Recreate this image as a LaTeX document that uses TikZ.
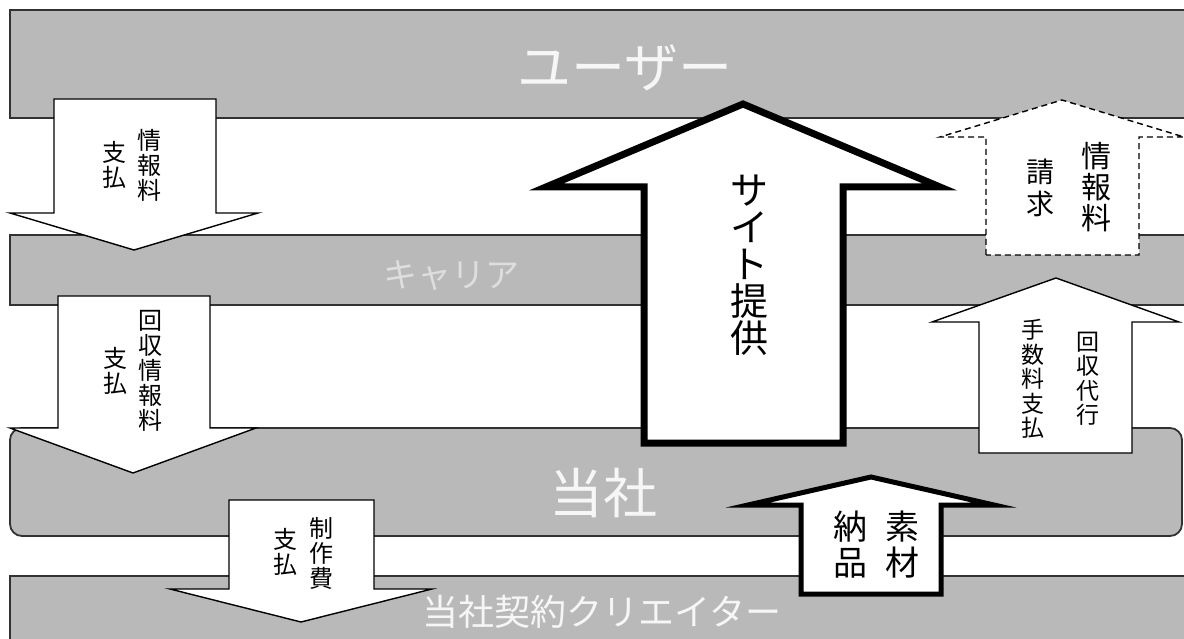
\documentclass[tikz,border=0pt]{standalone}
\usepackage{fontspec}
\newfontfamily\jp{Noto Sans CJK JP}
\definecolor{bandfill}{RGB}{185,185,185}
\definecolor{bandline}{RGB}{50,50,50}
\definecolor{bandtext}{RGB}{246,246,246}
\definecolor{bandtextdim}{RGB}{222,222,222}
\begin{document}
\begin{tikzpicture}[x=1pt,y=-1pt,
  band/.style={fill=bandfill,draw=bandline,line width=1.8pt},
  bandlabel/.style={text=bandtext,inner sep=0pt,font=\jp\fontsize{#1}{#1}\selectfont},
  blockarrow/.style={fill=white,draw=black,line width=1.4pt,line join=miter},
  dasharrow/.style={fill=white,draw=black,line width=1.4pt,dash pattern=on 6pt off 4pt},
  thickarrow/.style={fill=white,draw=black,line width=#1,line join=miter,miter limit=20},
  vtext/.style n args={2}{align=center,inner sep=0pt,font=\jp\fontsize{#1}{#2}\selectfont}
]
\useasboundingbox (0,0) rectangle (1184,639);
\fill[white] (0,0) rectangle (1184,639);

% bands
\draw[band] (10,10) rectangle (1200,118);
\node[bandlabel=54] (user) at (625,68) {ユーザー};
\draw[band] (10,235) rectangle (1200,305);
\node[bandlabel=34,text=bandtextdim] (carrier) at (451,276) {キャリア};
\draw[band,rounded corners=12pt] (10,428) rectangle (1182,536);
\node[bandlabel=54] (tosha) at (603,493) {当社};
\draw[band] (10,576) rectangle (1200,660);
\node[bandlabel=36] (creator) at (602,612) {当社契約クリエイター};

% arrow 1: 情報料支払
\draw[blockarrow] (54,99) -- (216,99) -- (216,213) -- (258,213) -- (134,250) -- (10,213) -- (54,213) -- cycle;
\node[vtext={24}{25}] (a1r) at (149,165) {情\\報\\料};
\node[vtext={24}{25}] (a1l) at (114,165) {支\\払};

% arrow 2: 回収情報料支払
\draw[blockarrow] (58,296) -- (210,296) -- (210,428) -- (256,428) -- (133,473) -- (10,428) -- (58,428) -- cycle;
\node[vtext={24}{25}] (a2r) at (150,371) {回\\収\\情\\報\\料};
\node[vtext={24}{25}] (a2l) at (115,371) {支\\払};

% arrow 3: 制作費支払
\draw[blockarrow] (229,500) -- (374,500) -- (374,589) -- (432,589) -- (301,622) -- (170,589) -- (229,589) -- cycle;
\node[vtext={24}{25}] (a3r) at (321,553) {制\\作\\費};
\node[vtext={24}{25}] (a3l) at (285,552) {支\\払};

% arrow 4: サイト提供
\draw[thickarrow=7pt] (644,187) -- (546,187) -- (743,104) -- (940,187) -- (843,187) -- (843,443) -- (644,443) -- cycle;
\node[vtext={38}{37}] (a4) at (749,265) {サ\\イ\\ト\\提\\供};

% arrow 5: 情報料請求 (dashed)
\draw[dasharrow] (986,255) -- (986,137) -- (940,137) -- (1062,100) -- (1184,137) -- (1139,137) -- (1139,255) -- cycle;
\node[vtext={30}{31}] (a5r) at (1096,187) {情\\報\\料};
\node[vtext={28}{32}] (a5l) at (1040,188) {請\\求};

% arrow 6: 回収代行手数料支払
\draw[blockarrow] (979,453) -- (979,322) -- (932,322) -- (1056,278) -- (1179,322) -- (1132,322) -- (1132,453) -- cycle;
\node[vtext={23}{24.5}] (a6r) at (1088,379) {回\\収\\代\\行};
\node[vtext={23}{24.4}] (a6l) at (1033,379) {手\\数\\料\\支\\払};

% arrow 7: 素材納品
\draw[thickarrow=5pt] (801,594) -- (801,505) -- (748,505) -- (871,477) -- (994,505) -- (941,505) -- (941,594) -- cycle;
\node[vtext={34}{36}] (a7r) at (902,545) {素\\材};
\node[vtext={34}{36}] (a7l) at (850,545) {納\\品};
\end{tikzpicture}
\end{document}
